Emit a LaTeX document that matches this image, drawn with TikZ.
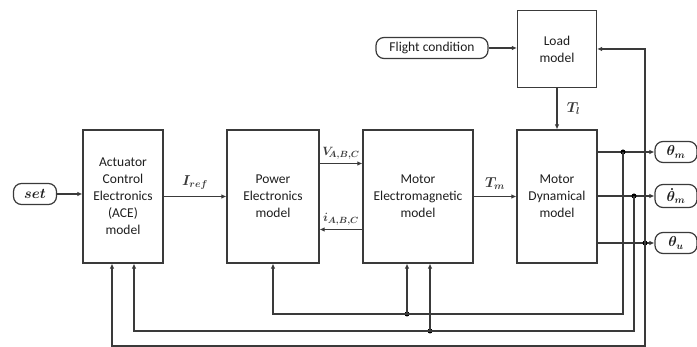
\documentclass[tikz,border=0pt]{standalone}
\usepackage{fontspec}
\setmainfont{Carlito}
\usetikzlibrary{arrows.meta,positioning,calc}
\definecolor{lineC}{HTML}{3A3A3A}
\definecolor{textC}{HTML}{1E1E1E}

\begin{document}
\begin{tikzpicture}[x=1pt,y=-1pt,font=\fontsize{13.5}{17}\selectfont,text=textC,
  block/.style={draw=lineC,line width=1.2pt,align=center,inner sep=0pt},
  sig/.style={draw=lineC,line width=1.2pt,rounded corners=8pt,minimum height=21pt,inner sep=2pt},
  lbl/.style={font=\fontsize{14.5}{17}\selectfont\boldmath},
  slbl/.style={font=\fontsize{12.5}{15}\selectfont\boldmath},
  arr/.style={lineC,line width=1.2pt,-{Latex[length=5pt,width=4.5pt]}},
  dot/.style={circle,fill=black,inner sep=0pt,minimum size=5pt}]
  \useasboundingbox (0,0) rectangle (697,347);
  % blocks
  \node[block,minimum width=80pt,minimum height=133pt] (ace) at (123,196.5)
    {Actuator\\Control\\Electronics\\(ACE)\\model};
  \node[block,minimum width=92pt,minimum height=133pt] (pe) at (273,196.5)
    {Power\\Electronics\\model};
  \node[block,minimum width=110pt,minimum height=133pt] (mem) at (418,196.5)
    {Motor\\Electromagnetic\\model};
  \node[block,minimum width=80pt,minimum height=133pt] (mdyn) at (557,196.5)
    {Motor\\Dynamical\\model};
  \node[block,minimum width=79pt,minimum height=77pt] (load) at (557,49)
    {Load\\model};
  % inputs and outputs
  \node[sig,lbl,minimum width=43pt] (set) at (35,194) {$set$};
  \node[sig,minimum width=112pt] (flight) at (432,48) {Flight condition};
  \node[sig,lbl,minimum width=42pt] (thm) at (676,152) {$\theta_m$};
  \node[sig,lbl,minimum width=42pt,minimum height=23pt] (thmd) at (676,196) {$\dot{\theta}_m$};
  \node[sig,lbl,minimum width=42pt] (thu) at (676,243) {$\theta_u$};
  % forward path
  \draw[arr] (set) -- (set -| ace.west);
  \draw[arr] (ace) -- (pe) node[lbl,midway,above=3pt] {$I_{ref}$};
  \draw[arr] ([yshift=33pt]pe.east) -- ([yshift=33pt]mem.west)
    node[slbl,midway,above=0pt] {$V_{\!A,B,C}$};
  \draw[arr] ([yshift=-33pt]mem.west) -- ([yshift=-33pt]pe.east)
    node[slbl,midway,above=0pt] {$i_{A,B,C}$};
  \draw[arr] (mem) -- (mdyn) node[lbl,midway,above=3pt] {$T_m$};
  \draw[arr] (flight) -- (flight -| load.west);
  \draw[arr] (load) -- (mdyn) node[lbl,midway,right=6pt] {$T_l$};
  \draw[arr] (mdyn.east |- thm) -- (thm);
  \draw[arr] (mdyn.east |- thmd) -- (thmd);
  \draw[arr] (mdyn.east |- thu) -- (thu);
  % feedback
  \node[dot] (j1) at (623,152) {};
  \node[dot] (j2) at (634,196) {};
  \node[dot] (j3) at (645,243) {};
  \node[dot] (d1) at (407,314) {};
  \node[dot] (d2) at (430,331) {};
  \draw[arr] (j1.center) -- (j1 |- 0,314) -| (pe.south);
  \draw[arr] (d1.center) -- (d1 |- mem.south);
  \draw[arr] (j2.center) -- (j2 |- 0,331) -| ([xshift=11pt]ace.south);
  \draw[arr] (d2.center) -- (d2 |- mem.south);
  \draw[arr] (j3.center) -- (j3 |- 0,346) -| ([xshift=-11pt]ace.south);
  \draw[arr] (j3.center) |- (load.east);
\end{tikzpicture}
\end{document}
